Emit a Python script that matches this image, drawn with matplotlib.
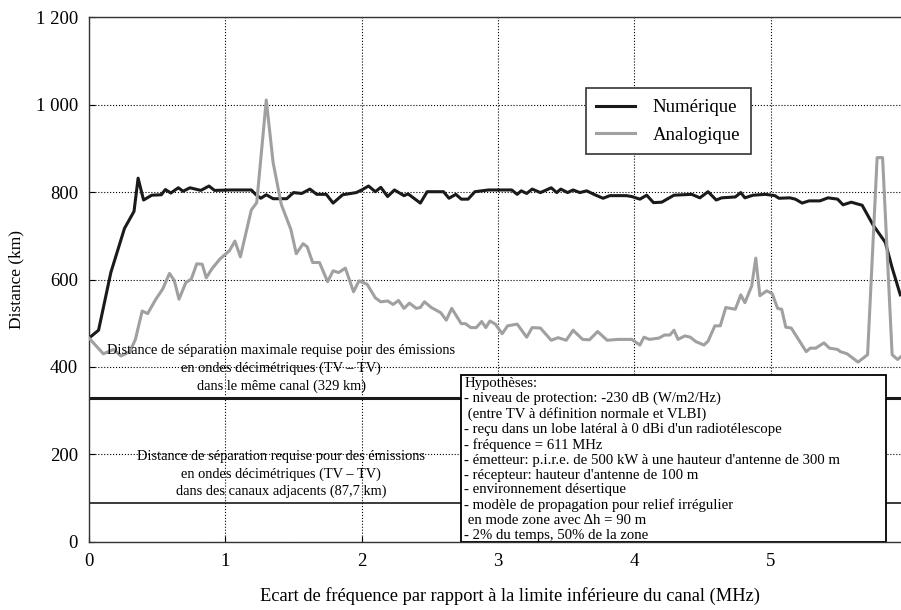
import numpy as np
import matplotlib.pyplot as plt
from matplotlib.patches import Rectangle

plt.rcParams['font.family'] = ['Liberation Serif', 'DejaVu Serif']

# --- Separation distance vs. frequency offset (MHz, km) ---
num_f = [0.00, 0.07, 0.16, 0.26, 0.33, 0.36, 0.40, 0.46, 0.53, 0.56, 0.60, 0.655,
         0.69, 0.74, 0.82, 0.88, 0.92, 1.04, 1.19, 1.225, 1.26, 1.30, 1.35, 1.45,
         1.50, 1.56, 1.62, 1.67, 1.74, 1.79, 1.86, 1.96, 2.00, 2.05, 2.10, 2.14,
         2.19, 2.24, 2.31, 2.34, 2.43, 2.48, 2.60, 2.64, 2.69, 2.73, 2.78, 2.83,
         2.93, 3.10, 3.14, 3.17, 3.21, 3.25, 3.31, 3.34, 3.39, 3.43, 3.46, 3.51,
         3.55, 3.60, 3.65, 3.71, 3.77, 3.82, 3.94, 3.98, 4.04, 4.09, 4.14, 4.20,
         4.29, 4.42, 4.48, 4.54, 4.60, 4.64, 4.74, 4.78, 4.81, 4.87, 4.96, 5.03,
         5.06, 5.14, 5.18, 5.23, 5.28, 5.36, 5.42, 5.49, 5.53, 5.59, 5.67, 5.75,
         5.84, 5.89, 5.95]
num_d = [466, 484, 616, 717, 756, 832, 782, 793, 794, 806, 798, 810,
         802, 810, 804, 814, 804, 805, 805, 794, 786, 794, 785, 785,
         799, 797, 807, 795, 795, 775, 794, 799, 805, 814, 801, 811,
         790, 805, 792, 796, 775, 801, 801, 786, 795, 784, 784, 801,
         805, 805, 795, 803, 797, 807, 799, 803, 810, 799, 807, 799,
         805, 799, 803, 794, 786, 792, 792, 790, 784, 793, 776, 777,
         793, 795, 787, 801, 782, 787, 789, 799, 787, 793, 795, 792,
         786, 787, 784, 775, 780, 780, 787, 784, 771, 777, 770, 725,
         685, 627, 565]

ana_f = [0.00, 0.105, 0.18, 0.235, 0.30, 0.34, 0.39, 0.43, 0.49, 0.54, 0.59, 0.625,
         0.66, 0.71, 0.75, 0.79, 0.83, 0.86, 0.90, 0.96, 1.03, 1.07, 1.11, 1.19,
         1.23, 1.30, 1.35, 1.41, 1.48, 1.52, 1.57, 1.60, 1.64, 1.69, 1.75, 1.79,
         1.83, 1.88, 1.94, 1.98, 2.04, 2.10, 2.14, 2.19, 2.23, 2.27, 2.31, 2.35,
         2.40, 2.43, 2.46, 2.51, 2.58, 2.62, 2.66, 2.68, 2.73, 2.76, 2.80, 2.84,
         2.88, 2.91, 2.94, 2.98, 3.03, 3.07, 3.14, 3.21, 3.25, 3.31, 3.39, 3.44,
         3.50, 3.55, 3.62, 3.67, 3.73, 3.80, 3.88, 3.98, 4.04, 4.07, 4.11, 4.18,
         4.22, 4.26, 4.29, 4.32, 4.37, 4.41, 4.45, 4.51, 4.54, 4.59, 4.63, 4.67,
         4.74, 4.78, 4.81, 4.86, 4.89, 4.92, 4.97, 5.01, 5.05, 5.08, 5.11, 5.15,
         5.26, 5.29, 5.33, 5.39, 5.43, 5.49, 5.51, 5.56, 5.64, 5.71, 5.78, 5.82,
         5.89, 5.93, 5.96]
ana_d = [466, 430, 440, 425, 435, 463, 528, 522, 555, 578, 614, 598,
         555, 593, 601, 636, 635, 604, 624, 647, 666, 688, 652, 759,
         776, 1011, 868, 772, 715, 659, 682, 675, 639, 639, 595, 620,
         616, 626, 572, 597, 589, 558, 549, 551, 543, 552, 534, 546,
         534, 536, 549, 536, 524, 507, 534, 524, 499, 499, 490, 490,
         504, 490, 505, 498, 476, 494, 498, 468, 490, 489, 461, 467,
         461, 484, 463, 462, 481, 461, 463, 463, 450, 468, 463, 466,
         473, 473, 484, 463, 471, 468, 458, 450, 459, 494, 494, 536,
         532, 565, 547, 585, 649, 563, 574, 568, 534, 532, 491, 489,
         435, 443, 443, 455, 443, 440, 435, 430, 411, 428, 879, 879,
         428, 417, 425]

# required separation distances (km)
sep_cochannel = 329
sep_adjacent = 87.7

x_ticks = [0, 1, 2, 3, 4, 5, 6]
y_ticks = [0, 200, 400, 600, 800, 1000, 1200]
y_labels = ['0', '200', '400', '600', '800', '1 000', '1 200']

hypotheses = [
    "Hypothèses:",
    "- niveau de protection: -230 dB (W/m2/Hz)",
    " (entre TV à définition normale et VLBI)",
    "- reçu dans un lobe latéral à 0 dBi d'un radiotélescope",
    "- fréquence = 611 MHz",
    "- émetteur: p.i.r.e. de 500 kW à une hauteur d'antenne de 300 m",
    "- récepteur: hauteur d'antenne de 100 m",
    "- environnement désertique",
    "- modèle de propagation pour relief irrégulier",
    " en mode zone avec Δh = 90 m",
    "- 2% du temps, 50% de la zone",
]

def km(v):
    return f"{v:g}".replace('.', ',')

# --- Plot ---
fig = plt.figure(figsize=(9.01, 6.10), dpi=100)
ax = fig.add_axes([0.0988, 0.112, 0.908, 0.8595])

ax.plot(num_f, num_d, color='#1a1a1a', lw=2.2, label='Numérique', zorder=3)
ax.plot(ana_f, ana_d, color='#a0a0a0', lw=2.2, label='Analogique', zorder=3)

ax.axhline(sep_cochannel, color='#1a1a1a', lw=2.2, zorder=2)
ax.axhline(sep_adjacent, color='#1a1a1a', lw=1.2, zorder=2)

ax.text(1.41, sep_cochannel + 12,
        "Distance de séparation maximale requise pour des émissions\n"
        "en ondes décimétriques (TV – TV)\n"
        f"dans le même canal ({km(sep_cochannel)} km)",
        ha='center', va='bottom', fontsize=10.4, linespacing=1.4, zorder=4)
ax.text(1.41, sep_adjacent + 12,
        "Distance de séparation requise pour des émissions\n"
        "en ondes décimétriques (TV – TV)\n"
        f"dans des canaux adjacents ({km(sep_adjacent)} km)",
        ha='center', va='bottom', fontsize=10.4, linespacing=1.4, zorder=4)

# assumptions box
ax.add_patch(Rectangle((0.4548, 0.0), 0.519, 0.318, transform=ax.transAxes,
                       facecolor='white', edgecolor='black', lw=1.3, zorder=5))
ax.text(0.4585, 0.315, "\n".join(hypotheses), transform=ax.transAxes,
        ha='left', va='top', fontsize=10.6, linespacing=1.19, zorder=6)

ax.set_xlim(0, 6)
ax.set_ylim(0, 1200)
ax.set_xticks(x_ticks)
ax.set_yticks(y_ticks)
ax.set_yticklabels(y_labels)
ax.grid(True, linestyle=':', color='black', lw=0.8)
ax.set_axisbelow(True)
ax.tick_params(direction='in', length=4, right=True, labelsize=13.5)
ax.tick_params(axis='x', pad=8)
ax.tick_params(axis='y', pad=8)
for s in ax.spines.values():
    s.set_color('#333333')
    s.set_linewidth(1.0)

ax.set_xlabel("Ecart de fréquence par rapport à la limite inférieure du canal (MHz)",
              fontsize=13.2)
ax.set_ylabel("Distance (km)", fontsize=12.5)
ax.xaxis.set_label_coords(0.515, -0.087)
ax.yaxis.set_label_coords(-0.079, 0.5)

leg = ax.legend(loc='upper left', bbox_to_anchor=(0.607, 0.865), fontsize=13.5,
                fancybox=False, framealpha=1, edgecolor='#333333',
                handlelength=2.05, handletextpad=0.95, borderpad=0.58,
                labelspacing=0.55, borderaxespad=0)
leg.get_frame().set_linewidth(1.2)

plt.savefig('out.png', dpi=100)
